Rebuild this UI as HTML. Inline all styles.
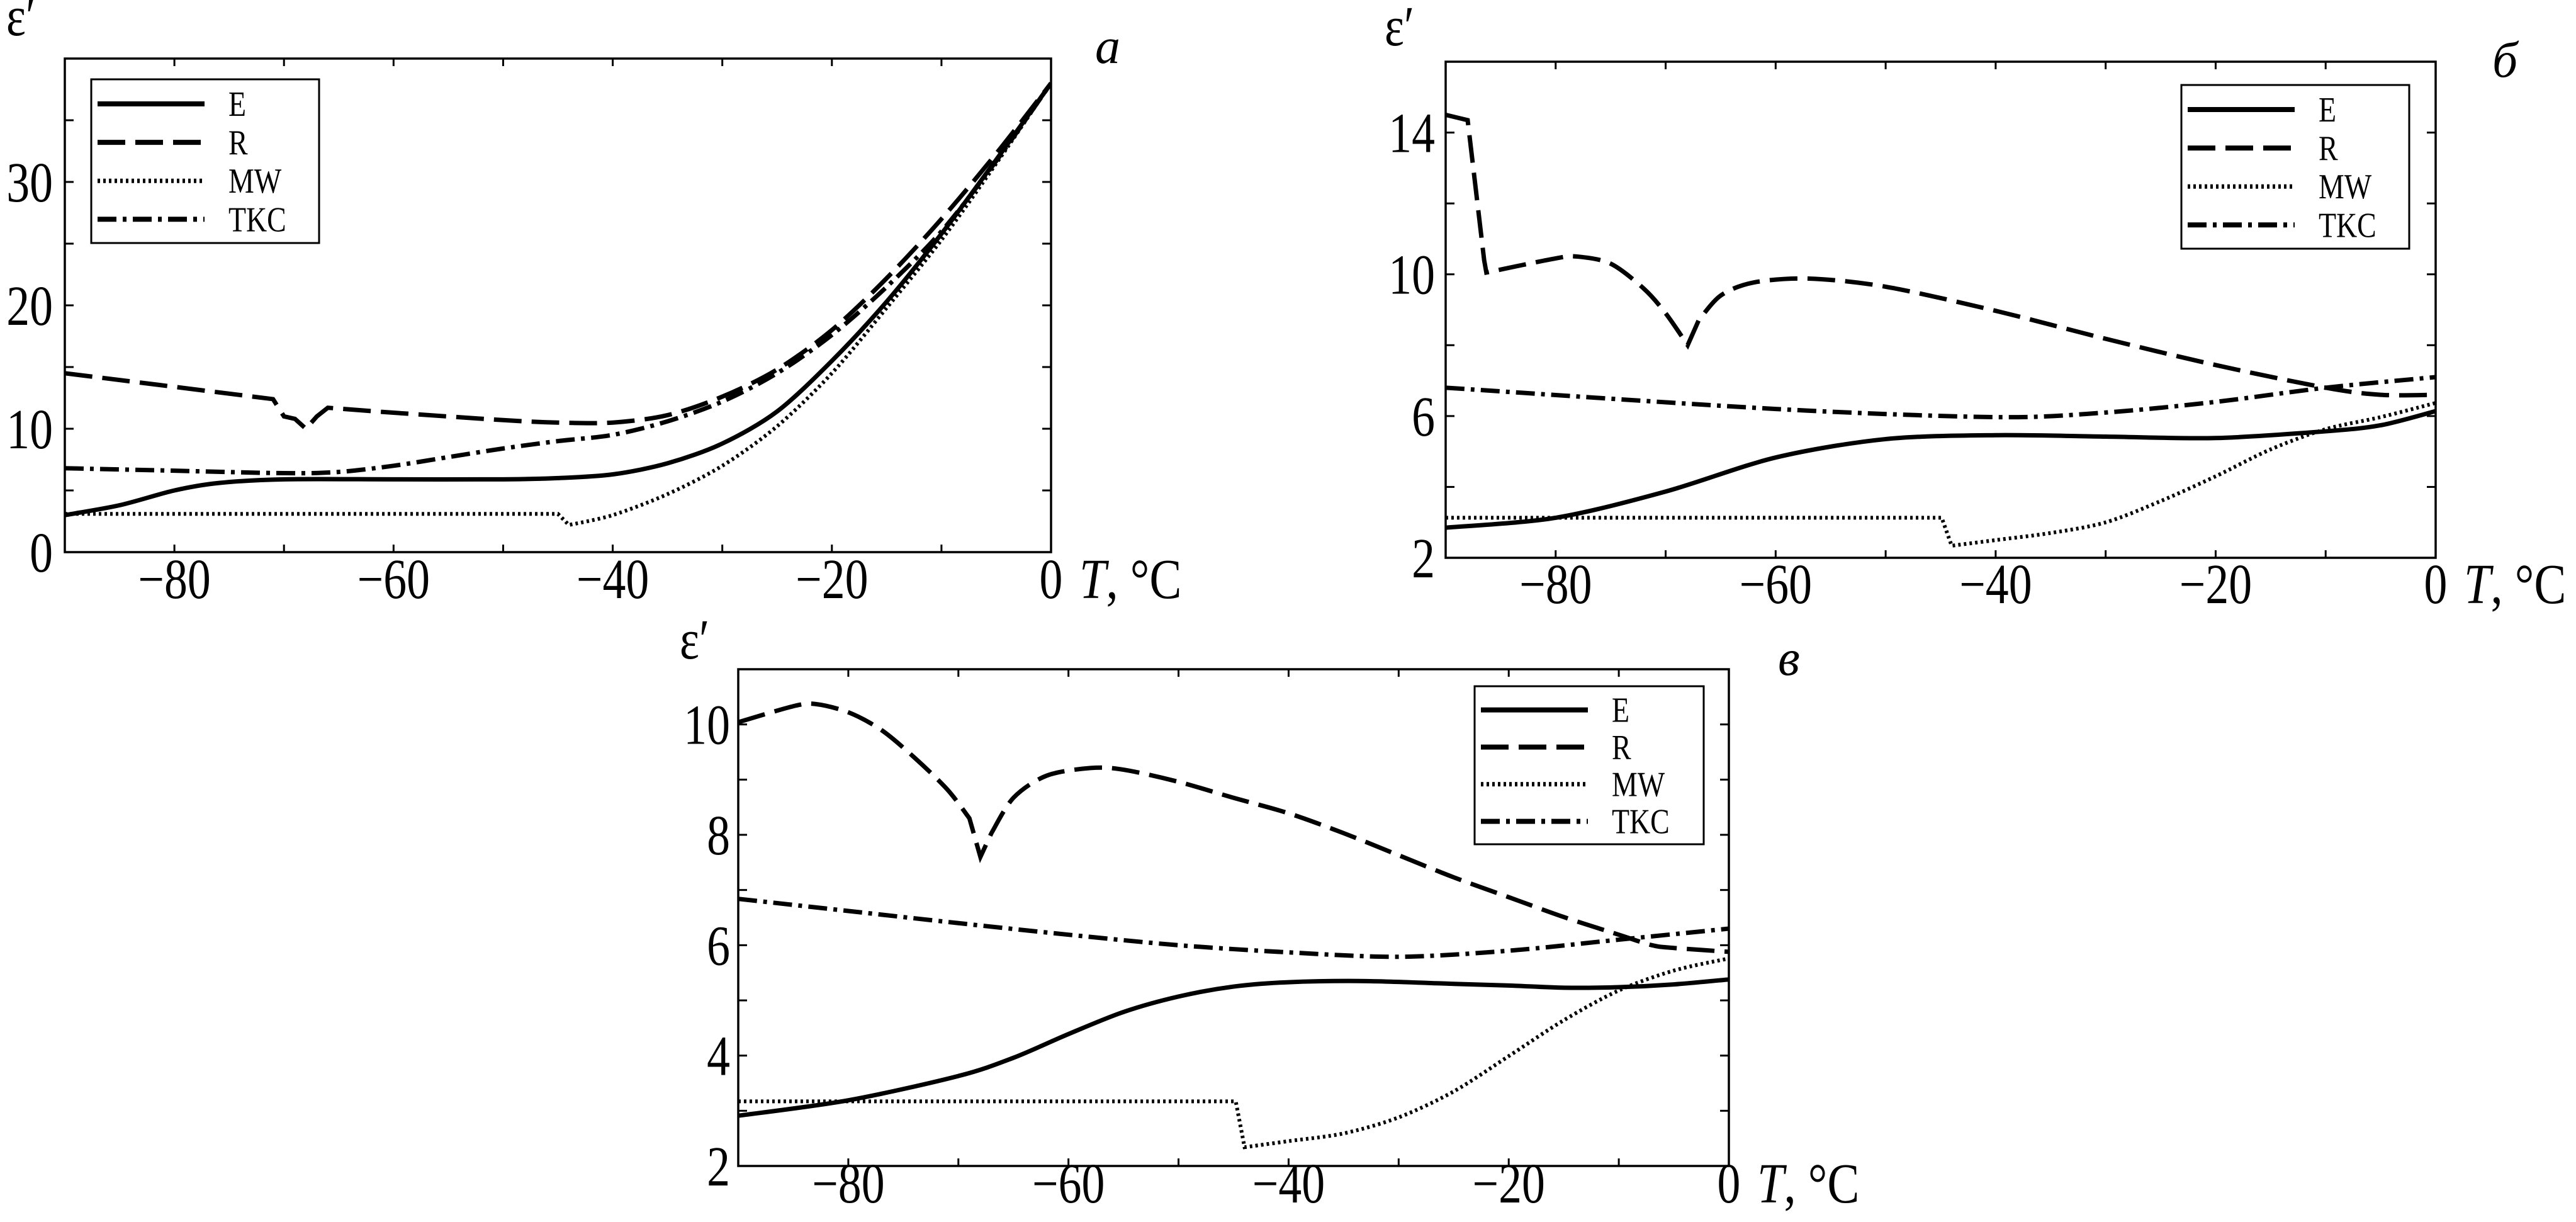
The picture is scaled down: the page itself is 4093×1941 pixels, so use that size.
<!DOCTYPE html>
<html><head><meta charset="utf-8"><style>
html,body{margin:0;padding:0;background:#fff;}
svg{display:block;font-family:"Liberation Serif",serif;}
</style></head><body>
<svg id="chart" width="4093" height="1941" viewBox="0 0 4093 1941" xmlns="http://www.w3.org/2000/svg"></svg>
<script>
const xTicks=[-80,-60,-40,-20,0];
// Panel a data
const aT_E=[-90,-85,-80,-76,-70,-60,-50,-45,-40,-35,-30,-25,-20,-15,-10,-5,0];
const aE=[3,3.8,5,5.6,5.9,5.9,5.9,6.0,6.3,7.2,8.8,11.4,15.5,20.3,25.8,31.8,38];
const aT_R=[-90,-71,-70,-69,-68,-67,-66,-60,-50,-45,-40,-35,-30,-25,-20,-15,-10,-5,0];
const aR=[14.5,12.4,11,10.8,10,11,11.7,11.3,10.7,10.5,10.5,11.1,12.6,14.8,18.0,22.2,27.0,32.3,38];
const aT_MW=[-90,-45,-44,-40,-35,-30,-25,-20,-15,-10,-5,0];
const aMW=[3.1,3.1,2.2,3,4.7,7,10.2,14.5,19.8,25.3,31.5,38];
const aT_TKC=[-90,-80,-70,-65,-60,-55,-50,-45,-40,-35,-30,-25,-20,-15,-10,-5,0];
const aTKC=[6.8,6.6,6.4,6.5,7,7.7,8.4,9,9.5,10.6,12.2,14.5,17.6,21.5,26.0,31.7,38];
const aYTicks=[0,10,20,30];
// Panel b data
const bT_E=[-90,-80,-70,-60,-50,-40,-30,-20,-10,-5,0];
const bE=[2.85,3.13,3.87,4.83,5.35,5.46,5.42,5.38,5.57,5.74,6.14];
const bT_R=[-90,-88,-86.5,-86.3,-80,-78,-75,-72,-70,-68,-67,-65,-62,-57,-50,-40,-30,-20,-10,-5,0];
const bR=[14.5,14.35,10.4,10.05,10.45,10.5,10.3,9.6,8.9,8.0,8.7,9.4,9.77,9.88,9.65,8.97,8.18,7.44,6.8,6.6,6.6];
const bT_MW=[-90,-44.9,-44,-40,-35,-30,-25,-20,-15,-10,-5,0];
const bMW=[3.13,3.13,2.34,2.5,2.7,3.0,3.6,4.3,5.06,5.63,5.97,6.37];
const bT_TKC=[-90,-60,-40,-30,-20,-10,0];
const bTKC=[6.8,6.2,5.97,6.1,6.4,6.8,7.1];
const bYTicks=[2,6,10,14];
// Panel c data
const cT_E=[-90,-80,-70,-65,-60,-55,-50,-45,-40,-33,-25,-20,-15,-10,-5,0];
const cE=[2.91,3.19,3.63,3.96,4.39,4.79,5.07,5.25,5.33,5.35,5.3,5.27,5.23,5.24,5.29,5.38];
const cT_R=[-90,-85,-83,-80,-77,-74,-71,-69,-68,-67,-65,-62,-58,-55,-50,-45,-40,-35,-30,-25,-20,-15,-10,-7,-5,0];
const cR=[10.04,10.33,10.37,10.22,9.9,9.4,8.82,8.3,7.6,8.03,8.67,9.07,9.21,9.18,8.96,8.67,8.39,8.03,7.63,7.23,6.87,6.51,6.19,6.0,5.95,5.88];
const cT_MW=[-90,-44.8,-44,-40,-35,-30,-25,-20,-15,-10,-5,0];
const cMW=[3.17,3.17,2.34,2.45,2.59,2.88,3.35,3.99,4.64,5.18,5.54,5.76];
const cT_TKC=[-90,-80,-70,-60,-50,-40,-30,-20,-10,0];
const cTKC=[6.84,6.62,6.4,6.19,6.0,5.87,5.79,5.9,6.1,6.3];
const cYTicks=[2,4,6,8,10];

const NS="http://www.w3.org/2000/svg";
const svg=document.getElementById('chart');
function mk(tag,attrs,parent){const e=document.createElementNS(NS,tag);for(const k in attrs)e.setAttribute(k,attrs[k]);(parent||svg).appendChild(e);return e;}
const styles={
 E:{w:7,dash:null},
 R:{w:7,dash:"44 16"},
 MW:{w:6,dash:"4 5"},
 TKC:{w:7,dash:"30 10 6 10"}
};
function smooth(pts){
 let d="";
 for(let i=0;i<pts.length-1;i++){
  const p0=pts[Math.max(0,i-1)],p1=pts[i],p2=pts[i+1],p3=pts[Math.min(pts.length-1,i+2)];
  const t=0.15;
  const c1=[p1[0]+(p2[0]-p0[0])*t,p1[1]+(p2[1]-p0[1])*t];
  const c2=[p2[0]-(p3[0]-p1[0])*t,p2[1]-(p3[1]-p1[1])*t];
  d+=" C"+c1[0]+","+c1[1]+" "+c2[0]+","+c2[1]+" "+p2[0]+","+p2[1];
 }
 return d;
}
function path(xs,ys,sx,sy){
 // split runs at sharp steps (x step < 2 deg) -> straight segments
 const pts=xs.map((v,i)=>[sx(v),sy(ys[i])]);
 let d="M"+pts[0][0]+","+pts[0][1];
 let run=[pts[0]];
 for(let i=1;i<pts.length;i++){
  const sharp=Math.abs(xs[i]-xs[i-1])<1.6;
  if(sharp){
   if(run.length>1)d+=smooth(run);
   d+=" L"+pts[i][0]+","+pts[i][1];
   run=[pts[i]];
  }else run.push(pts[i]);
 }
 if(run.length>1)d+=smooth(run);
 return d;
}
function txt(g,x,y,size,str,anchor,name){
 const t=mk('text',{transform:'translate('+x+','+y+') scale(0.82,1)','font-size':size,'text-anchor':anchor||'start'},g);
 t.textContent=str;
 
 
 return t;
}
function panel(cfg){
 const g=mk('g',{});
 
 
 const {L,R,T,B,ymin,ymax,yMinor}=cfg;
 const sx=v=>L+(v+90)/90*(R-L);
 const sy=v=>B-(v-ymin)/(ymax-ymin)*(B-T);
 for(let v=-80;v<0;v+=10){
  const t1=mk('line',{x1:sx(v),x2:sx(v),y1:B,y2:B-12,stroke:'#000','stroke-width':3},g);
  
  const t2=mk('line',{x1:sx(v),x2:sx(v),y1:T,y2:T+12,stroke:'#000','stroke-width':3},g);
  
 }
 for(let v=ymin+yMinor;v<ymax-1e-9;v+=yMinor){
  const t1=mk('line',{x1:L,x2:L+14,y1:sy(v),y2:sy(v),stroke:'#000','stroke-width':3},g);
  
  const t2=mk('line',{x1:R,x2:R-14,y1:sy(v),y2:sy(v),stroke:'#000','stroke-width':3},g);
  
 }
 xTicks.forEach(v=>{txt(g,sx(v),cfg.xLabY,90,(v<0?'\u2212':'')+Math.abs(v),'middle','x-tick-label');});
 cfg.yTicks.forEach(v=>{txt(g,cfg.yLabX,sy(v)+31,90,String(v),'end','y-tick-label');});
 const xt=mk('text',{transform:'translate('+(R+45)+','+cfg.xLabY+') scale(0.85,1)','font-size':90},g);
 xt.innerHTML='<tspan font-style="italic">T</tspan>, °C';
 
 txt(g,cfg.epsX,cfg.epsY,90,'ε′','start','y-axis-title');
 const pl=mk('text',{x:cfg.lblX,y:cfg.lblY,'font-size':80,'font-style':'italic'},g);
 pl.textContent=cfg.id;
 
 const cp=mk('clipPath',{id:'clip'+cfg.n},g);
 mk('rect',{x:L,y:T,width:R-L,height:B-T},cp);
 cfg.series.forEach(s=>{
  const st=styles[s.name];
  const p=mk('path',{d:path(s.x,s.y,sx,sy),fill:'none',stroke:'#000','stroke-width':st.w,'clip-path':'url(#clip'+cfg.n+')'},g);
  if(st.dash)p.setAttribute('stroke-dasharray',st.dash);
  
  
 });
 const fr=mk('rect',{x:L,y:T,width:R-L,height:B-T,fill:'none',stroke:'#000','stroke-width':3.5},g);
 
 const lg=mk('g',{},g);
 
 const lb=mk('rect',{x:cfg.lg[0],y:cfg.lg[1],width:cfg.lg[2],height:cfg.lg[3],fill:'#fff',stroke:'#000','stroke-width':3},lg);
 
 ['E','R','MW','TKC'].forEach((n,i)=>{
  const y=cfg.lg[1]+cfg.lg[3]*(0.15+i*0.235);
  const st=styles[n];
  const ln=mk('line',{x1:cfg.lg[0]+10,x2:cfg.lg[0]+180,y1:y,y2:y,stroke:'#000','stroke-width':st.w+1},lg);
  if(st.dash)ln.setAttribute('stroke-dasharray',st.dash);
  
  
  txt(lg,cfg.lg[0]+218,y+19,56,n,'start','legend-label');
 });
}
panel({id:'a',n:1,L:103,R:1670,T:93,B:877,ymin:0,ymax:40,yMinor:5,yTicks:aYTicks,xLabY:950,yLabX:84,epsX:10,epsY:56,lblX:1740,lblY:100,
 lg:[145,126,362,260],
 series:[{name:'E',x:aT_E,y:aE},{name:'R',x:aT_R,y:aR},{name:'MW',x:aT_MW,y:aMW},{name:'TKC',x:aT_TKC,y:aTKC}]});
panel({id:'б',n:2,L:2297,R:3870,T:98,B:886,ymin:2,ymax:16,yMinor:2,yTicks:bYTicks,xLabY:958,yLabX:2280,epsX:2200,epsY:72,lblX:3960,lblY:122,
 lg:[3466,135,362,260],
 series:[{name:'E',x:bT_E,y:bE},{name:'R',x:bT_R,y:bR},{name:'MW',x:bT_MW,y:bMW},{name:'TKC',x:bT_TKC,y:bTKC}]});
panel({id:'в',n:3,L:1173,R:2747,T:1063,B:1852,ymin:2,ymax:11,yMinor:1,yTicks:cYTicks,xLabY:1910,yLabX:1160,epsX:1080,epsY:1046,lblX:2825,lblY:1072,
 lg:[2343,1090,364,251],
 series:[{name:'E',x:cT_E,y:cE},{name:'R',x:cT_R,y:cR},{name:'MW',x:cT_MW,y:cMW},{name:'TKC',x:cT_TKC,y:cTKC}]});
</script>
</body></html>
